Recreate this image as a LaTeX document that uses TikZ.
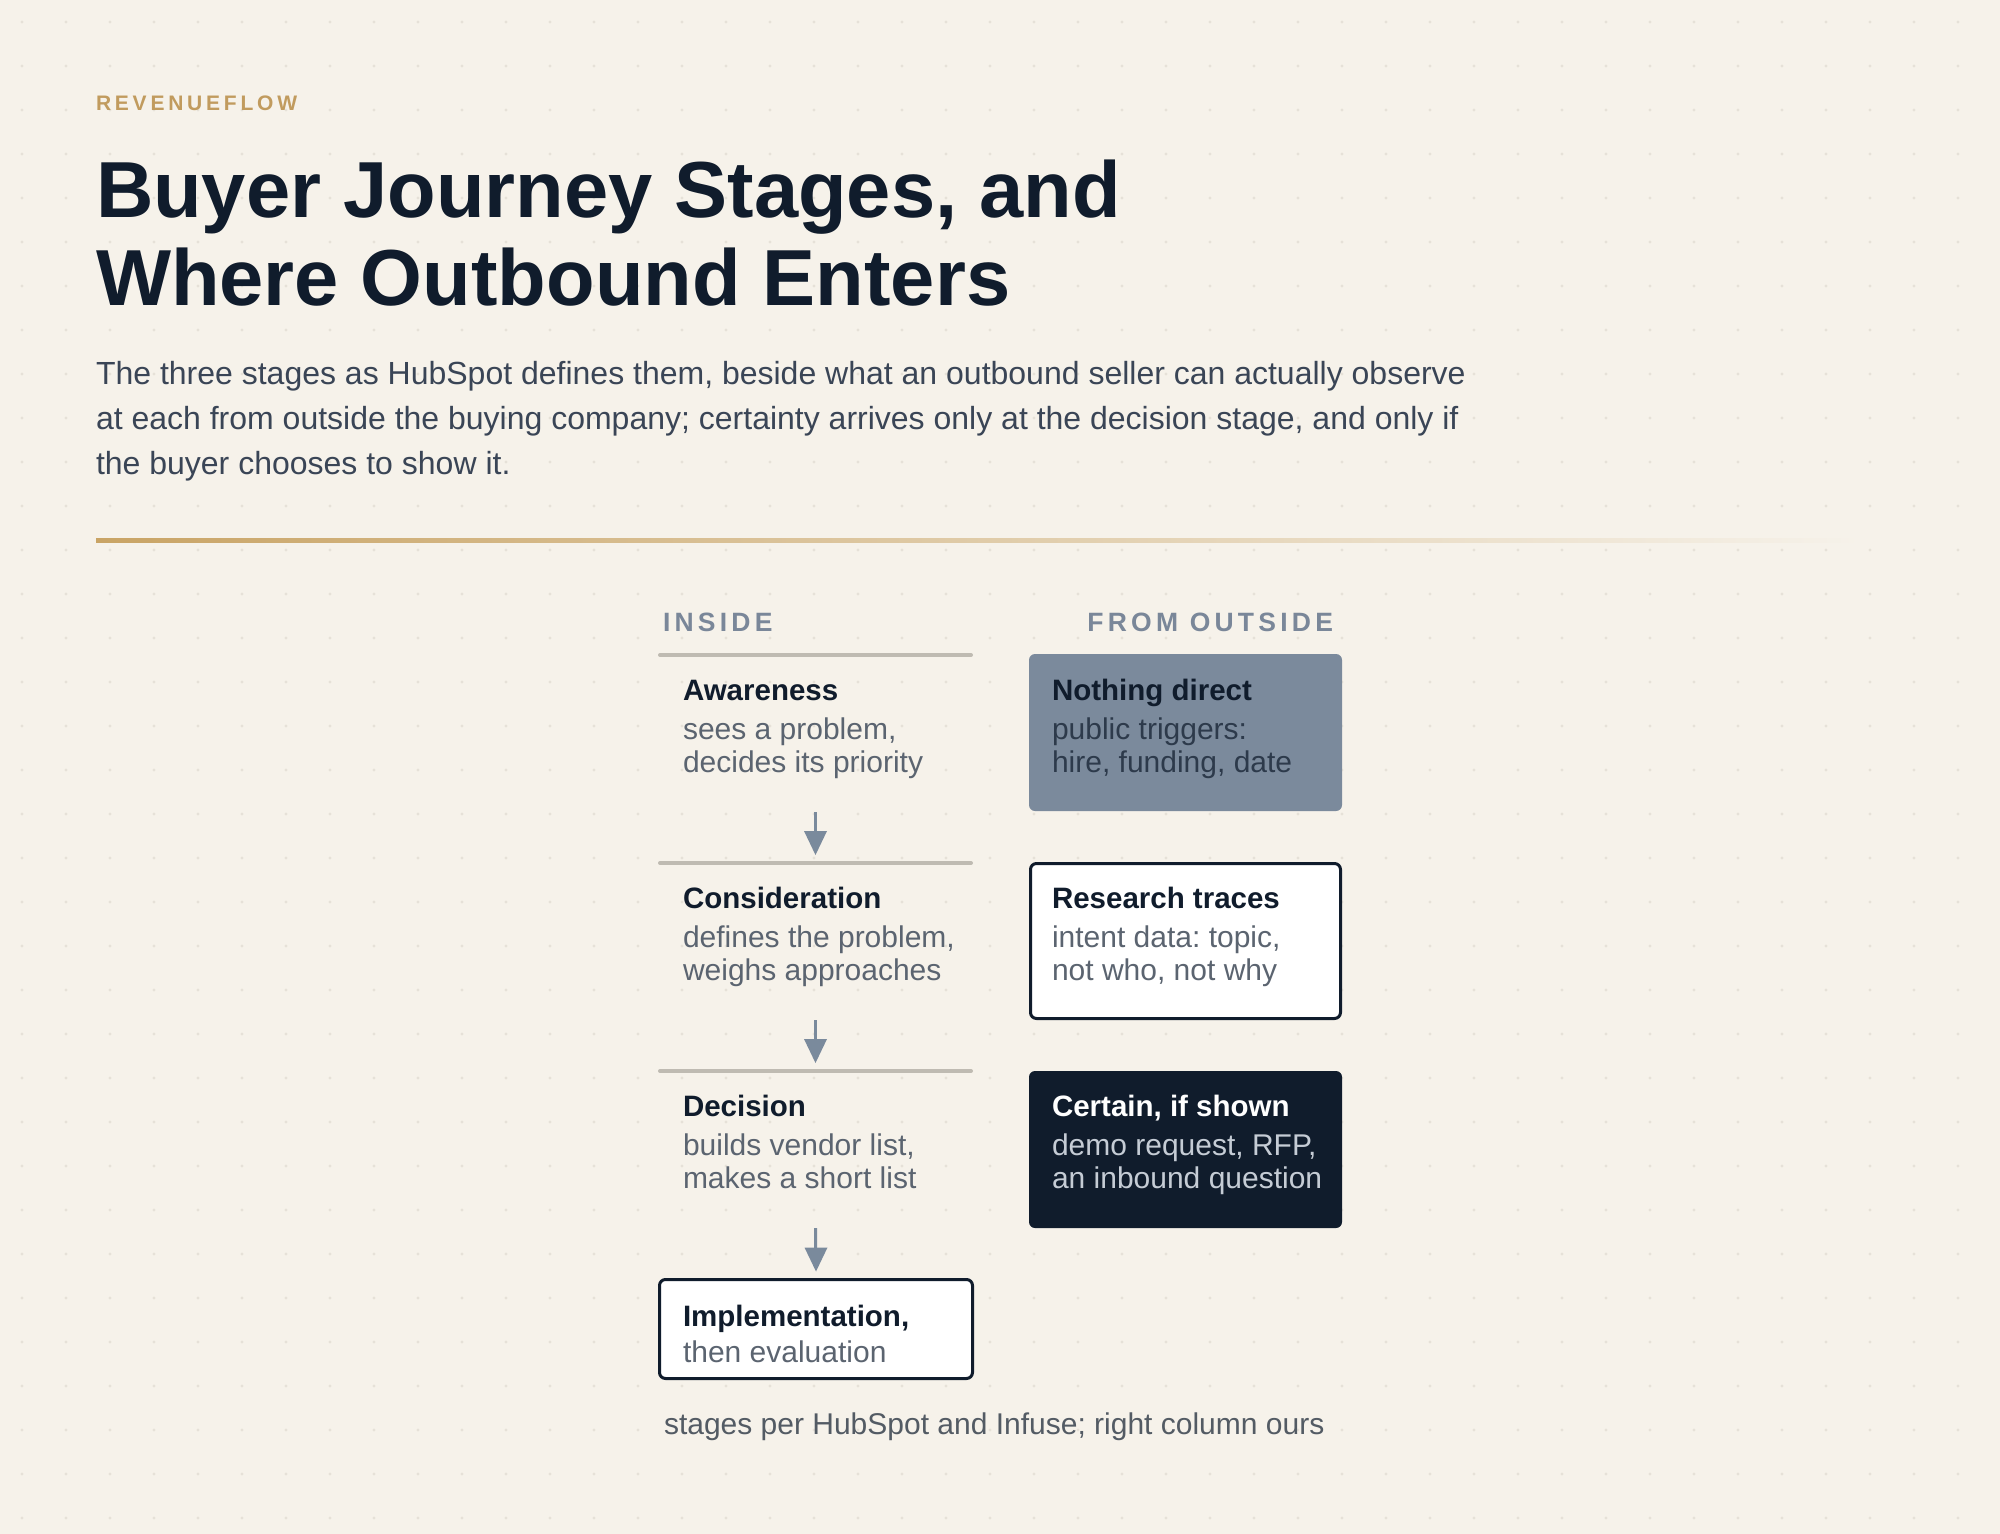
\documentclass[tikz,border=0pt]{standalone}
\usepackage{fontspec}
\setmainfont{Liberation Sans}
\definecolor{paper}{HTML}{F6F2EA}
\definecolor{griddot}{HTML}{E6E1D8}
\definecolor{navy}{HTML}{101C2C}
\definecolor{gold}{HTML}{C19B5E}
\definecolor{goldline}{HTML}{C9A465}
\definecolor{ledetext}{HTML}{3A4556}
\definecolor{headgrey}{HTML}{7A8799}
\definecolor{rule}{HTML}{BFBBB2}
\definecolor{notetext}{HTML}{5B6470}
\definecolor{slate}{HTML}{7B8A9C}
\definecolor{slatetext}{HTML}{2D3A4B}
\definecolor{paletext}{HTML}{C5CCD5}
\definecolor{arrowc}{HTML}{7A8A9C}
\definecolor{foottext}{HTML}{535B64}
\tikzset{
  kicker/.style={anchor=base west, text=gold,
    font={\fontsize{21}{25}\selectfont\bfseries\addfontfeatures{LetterSpace=18}}},
  headline/.style={anchor=base west, text=navy, font=\fontsize{79.5}{88}\selectfont\bfseries},
  lede/.style={anchor=base west, text=ledetext, font=\fontsize{32}{45}\selectfont},
  colhead/.style={anchor=base west, text=headgrey,
    font={\fontsize{26.5}{30}\selectfont\bfseries\addfontfeatures{LetterSpace=16}}},
  stagetitle/.style={anchor=base west, text=navy, font=\fontsize{29.5}{34}\selectfont\bfseries},
  stagenote/.style={anchor=base west, text=notetext, font=\fontsize{30}{33}\selectfont},
  stagecell/.style={anchor=north west, minimum width=315pt, minimum height=157pt},
  outbox/.style={anchor=north west, rounded corners=6pt, minimum width=313pt, minimum height=157pt},
  footnote/.style={anchor=base west, text=foottext, font=\fontsize{30}{33}\selectfont}
}
\begin{document}
\frenchspacing
\begin{tikzpicture}[y=1pt, x=1pt, yscale=-1, inner sep=0pt, outer sep=0pt]
    % paper and dot grid
    \path[fill=paper,use as bounding box] (0,0) rectangle (2000,1534);
    \foreach \i in {0,...,45}
      \foreach \j in {0,...,34}
        \path[fill=griddot] (22+44*\i,22+44*\j) circle (1.6pt);
    % header
    \path (96,110) node[kicker] (text-kicker) {REVENUEFLOW};
    \path (96,217) node[headline] (text-title1) {Buyer Journey Stages, and};
    \path (96,305) node[headline] (text-title2) {Where Outbound Enters};
    \path (96,384) node[lede] (text-lede1) {The three stages as HubSpot defines them, beside what an outbound seller can actually observe};
    \path (96,429) node[lede] (text-lede2) {at each from outside the buying company; certainty arrives only at the decision stage, and only if};
    \path (96,474) node[lede] (text-lede3) {the buyer chooses to show it.};
    \path[left color=goldline, right color=paper] (96,538) rectangle (1860,542);
    % column heads
    \path (663,631) node[colhead] (text-inside) {INSIDE};
    \path (1333,631) node[colhead, anchor=base east] (text-outside) {FROM OUTSIDE};
    % inside column
    \path[draw=rule,line cap=round,line width=4pt] (660,655) -- (971,655);
    \path[draw=rule,line cap=round,line width=4pt] (660,863) -- (971,863);
    \path[draw=rule,line cap=round,line width=4pt] (660,1071) -- (971,1071);
    \node[stagecell] (awareness) at (658,655) {};
    \node[stagecell] (consideration) at (658,863) {};
    \node[stagecell] (decision) at (658,1071) {};
    \node[stagecell, draw=navy, fill=white, line width=3pt, rounded corners=6pt,
      minimum width=313pt, minimum height=99pt] (implementation) at (659.5,1279.5) {};
    \path (683,700) node[stagetitle] (text-awareness) {Awareness};
    \path (683,739.5) node[stagenote] (text-awareness-a) {sees a problem,};
    \path (683,772.5) node[stagenote] (text-awareness-b) {decides its priority};
    \path (683,908) node[stagetitle] (text-consideration) {Consideration};
    \path (683,947.5) node[stagenote] (text-consideration-a) {defines the problem,};
    \path (683,980.5) node[stagenote] (text-consideration-b) {weighs approaches};
    \path (683,1116) node[stagetitle] (text-decision) {Decision};
    \path (683,1155.5) node[stagenote] (text-decision-a) {builds vendor list,};
    \path (683,1188.5) node[stagenote] (text-decision-b) {makes a short list};
    \path (683,1326) node[stagetitle] (text-implementation) {Implementation,};
    \path (683,1362.5) node[stagenote] (text-implementation-a) {then evaluation};
    % arrows between stages
    \path[draw=arrowc,line width=3pt,shorten >=30pt] (awareness.south) -- (consideration.north);
    \path[fill=arrowc] (consideration.north) ++(0,-8) -- ++(-11.5,-24) -- ++(23,0) -- cycle;
    \path[draw=arrowc,line width=3pt,shorten >=30pt] (consideration.south) -- (decision.north);
    \path[fill=arrowc] (decision.north) ++(0,-8) -- ++(-11.5,-24) -- ++(23,0) -- cycle;
    \path[draw=arrowc,line width=3pt,shorten >=30pt] (decision.south) -- (implementation.north);
    \path[fill=arrowc] (implementation.north) ++(0,-8) -- ++(-11.5,-24) -- ++(23,0) -- cycle;
    % outside column
    \node[outbox, fill=slate] (nothing) at (1029,654) {};
    \node[outbox, fill=white, draw=navy, line width=3pt,
      minimum width=310pt, minimum height=155pt] (traces) at (1030.5,863.5) {};
    \node[outbox, fill=navy] (certain) at (1029,1071) {};
    \path (1052,700) node[stagetitle] (text-nothing) {Nothing direct};
    \path (1052,739.5) node[stagenote, text=slatetext] (text-nothing-a) {public triggers:};
    \path (1052,772.5) node[stagenote, text=slatetext] (text-nothing-b) {hire, funding, date};
    \path (1052,908) node[stagetitle] (text-traces) {Research traces};
    \path (1052,947.5) node[stagenote] (text-traces-a) {intent data: topic,};
    \path (1052,980.5) node[stagenote] (text-traces-b) {not who, not why};
    \path (1052,1116) node[stagetitle, text=white] (text-certain) {Certain, if shown};
    \path (1052,1155.5) node[stagenote, text=paletext] (text-certain-a) {demo request, RFP,};
    \path (1052,1188.5) node[stagenote, text=paletext] (text-certain-b) {an inbound question};
    % source line
    \path (664,1434) node[footnote] (text-source) {stages per HubSpot and Infuse; right column ours};
\end{tikzpicture}
\end{document}
